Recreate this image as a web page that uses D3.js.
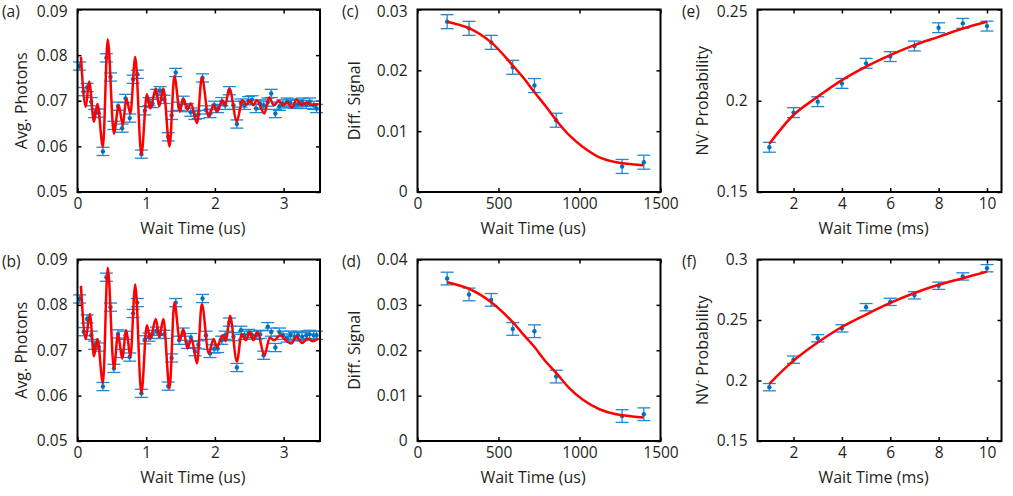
<!DOCTYPE html>
<html>
<head>
<meta charset="utf-8">
<script src="https://cdn.jsdelivr.net/npm/d3@7"></script>
<style>
body { margin: 0; background: #fff; }
svg text { font-family: "Open Sans", sans-serif; fill: #231f20; }
</style>
</head>
<body>
<svg width="1013" height="496"></svg>
<script>
// ---- data ----
// (a) photons vs wait time (us): [t, value]
var pointsA = [[0.03,0.0776],[0.09,0.0720],[0.14,0.0729],[0.20,0.0698],[0.25,0.0672],[0.31,0.0673],[0.37,0.0589],[0.42,0.0794],
  [0.48,0.0752],[0.53,0.0646],[0.59,0.0688],[0.65,0.0640],[0.70,0.0705],[0.76,0.0662],[0.81,0.0747],[0.87,0.0758],
  [0.93,0.0583],[0.98,0.0678],[1.04,0.0698],[1.09,0.0694],[1.15,0.0716],[1.20,0.0722],[1.26,0.0703],[1.32,0.0621],
  [1.37,0.0668],[1.43,0.0762],[1.48,0.0688],[1.54,0.0701],[1.60,0.0685],[1.65,0.0675],[1.71,0.0668],[1.76,0.0670],
  [1.82,0.0750],[1.87,0.0680],[1.93,0.0672],[1.99,0.0690],[2.04,0.0683],[2.10,0.0698],[2.15,0.0690],[2.21,0.0722],
  [2.27,0.0690],[2.32,0.0649],[2.38,0.0695],[2.43,0.0690],[2.49,0.0700],[2.54,0.0702],[2.60,0.0683],[2.66,0.0693],
  [2.71,0.0690],[2.77,0.0697],[2.82,0.0716],[2.88,0.0672],[2.94,0.0688],[2.99,0.0693],[3.05,0.0697],[3.10,0.0695],
  [3.16,0.0692],[3.21,0.0693],[3.27,0.0697],[3.33,0.0692],[3.38,0.0697],[3.44,0.0690],[3.48,0.0683]];
var fitA = [[0.05,0.0796],[0.12,0.0687],[0.17,0.0742],[0.24,0.0654],[0.29,0.0693],[0.37,0.0599],[0.44,0.0834],[0.53,0.0628],
  [0.60,0.0690],[0.66,0.0646],[0.71,0.0705],[0.77,0.0672],[0.84,0.0796],[0.93,0.0582],[1.01,0.0714],[1.06,0.0683],
  [1.14,0.0727],[1.19,0.0688],[1.25,0.0727],[1.34,0.0600],[1.41,0.0754],[1.49,0.0676],[1.54,0.0705],[1.60,0.0680],
  [1.65,0.0694],[1.74,0.0651],[1.81,0.0751],[1.91,0.0665],[1.98,0.0690],[2.03,0.0676],[2.11,0.0701],[2.15,0.0690],
  [2.21,0.0727],[2.32,0.0655],[2.40,0.0701],[2.46,0.0692],[2.51,0.0700],[2.56,0.0690],[2.61,0.0701],[2.72,0.0672],
  [2.79,0.0707],[2.86,0.0690],[2.93,0.0700],[3.00,0.0690],[3.05,0.0697],[3.12,0.0685],[3.19,0.0703],[3.26,0.0690],
  [3.33,0.0696],[3.40,0.0691],[3.51,0.0693]];

// (b)
var pointsB = [[0.03,0.0813],[0.09,0.0741],[0.14,0.0769],[0.20,0.0733],[0.25,0.0711],[0.31,0.0707],[0.37,0.0620],[0.42,0.0861],
  [0.48,0.0795],[0.53,0.0660],[0.59,0.0736],[0.65,0.0693],[0.70,0.0733],[0.76,0.0685],[0.81,0.0781],[0.87,0.0805],
  [0.93,0.0605],[0.98,0.0723],[1.04,0.0729],[1.09,0.0735],[1.15,0.0742],[1.20,0.0735],[1.26,0.0735],[1.32,0.0621],
  [1.37,0.0683],[1.43,0.0805],[1.48,0.0722],[1.54,0.0740],[1.60,0.0713],[1.65,0.0728],[1.71,0.0697],[1.76,0.0712],
  [1.82,0.0814],[1.87,0.0733],[1.93,0.0693],[1.99,0.0703],[2.04,0.0704],[2.10,0.0722],[2.15,0.0733],[2.21,0.0762],
  [2.27,0.0730],[2.32,0.0662],[2.38,0.0744],[2.43,0.0733],[2.49,0.0737],[2.54,0.0733],[2.60,0.0733],[2.66,0.0735],
  [2.71,0.0689],[2.77,0.0752],[2.82,0.0740],[2.88,0.0706],[2.94,0.0740],[2.99,0.0733],[3.05,0.0727],[3.10,0.0733],
  [3.16,0.0730],[3.21,0.0733],[3.27,0.0730],[3.33,0.0733],[3.38,0.0735],[3.44,0.0733],[3.48,0.0733]];
var fitB = [[0.05,0.0842],[0.12,0.0725],[0.18,0.0780],[0.24,0.0687],[0.29,0.0725],[0.37,0.0627],[0.44,0.0882],[0.53,0.0660],
  [0.59,0.0736],[0.65,0.0682],[0.71,0.0744],[0.77,0.0685],[0.84,0.0845],[0.93,0.0605],[1.01,0.0755],[1.06,0.0725],
  [1.14,0.0769],[1.19,0.0729],[1.25,0.0769],[1.34,0.0616],[1.41,0.0805],[1.49,0.0722],[1.54,0.0747],[1.60,0.0704],
  [1.66,0.0725],[1.74,0.0671],[1.81,0.0802],[1.91,0.0693],[1.98,0.0725],[2.03,0.0707],[2.11,0.0733],[2.16,0.0720],
  [2.22,0.0776],[2.32,0.0675],[2.39,0.0736],[2.45,0.0722],[2.51,0.0740],[2.56,0.0722],[2.62,0.0740],[2.72,0.0689],
  [2.80,0.0728],[2.86,0.0722],[2.95,0.0733],[3.03,0.0722],[3.11,0.0715],[3.19,0.0730],[3.27,0.0716],[3.35,0.0726],
  [3.42,0.0720],[3.51,0.0726]];

// (c), (d) diff. signal vs wait time (us)
var waitCD = [183, 318, 455, 588, 722, 856, 1263, 1397];
var signalC = [0.0280, 0.0269, 0.0246, 0.0205, 0.0175, 0.0118, 0.0042, 0.0049];
var signalD = [0.0358, 0.0323, 0.0311, 0.0247, 0.0242, 0.0142, 0.0055, 0.0059];
var fitC = [[183,0.0280],[321,0.0269],[455,0.0246],[588,0.0208],[650,0.0189],[722,0.0164],[794,0.0140],[856,0.0118],
  [938,0.0093],[1021,0.0074],[1123,0.0057],[1226,0.0049],[1395,0.0044]];
var fitD = [[183,0.0350],[321,0.0335],[455,0.0306],[588,0.0262],[650,0.0236],[722,0.0207],[794,0.0174],[856,0.0150],
  [938,0.0116],[1021,0.0091],[1123,0.0070],[1226,0.0059],[1395,0.0052]];

// (e), (f) NV- probability vs wait time (ms)
var waitEF = [1, 2, 3, 4, 5, 6, 7, 8, 9, 10];
var probE = [0.1745, 0.1935, 0.1995, 0.2095, 0.2205, 0.2242, 0.2300, 0.2400, 0.2424, 0.2409];
var probF = [0.1945, 0.2172, 0.2349, 0.2431, 0.2606, 0.2650, 0.2704, 0.2783, 0.2860, 0.2928];
var fitE = [[1,0.1764],[2,0.1922],[3,0.2022],[4,0.2113],[5,0.2187],[6,0.2250],[7,0.2305],[8,0.2350],[9,0.2396],[10,0.2433]];
var fitF = [[1,0.1973],[2,0.2164],[3,0.2314],[4,0.2442],[5,0.2545],[6,0.2641],[7,0.2723],[8,0.2791],[9,0.2845],[10,0.2900]];

var ticksPhotons = [0.05, 0.06, 0.07, 0.08, 0.09];
var ticksC = [0, 0.01, 0.02, 0.03];
var ticksD = [0, 0.01, 0.02, 0.03, 0.04];
var ticksE = [0.15, 0.2, 0.25];
var ticksF = [0.15, 0.2, 0.25, 0.3];

var svg = d3.select("svg");
var red = "#ff0000", barColor = "#1f88d6", dotColor = "#0072bd";

function fmt(d) { return String(+d.toFixed(4)); }

function drawPanel(p) {
    var x = d3.scaleLinear().domain(p.xDomain).range([p.left, p.right]);
    var y = d3.scaleLinear().domain(p.yDomain).range([p.bottom, p.top]);
    var g = svg.append("g");

    // inward ticks on all four sides
    var axes = [
        [d3.axisBottom(x).tickValues(p.xTicks).tickFormat(fmt).tickPadding(6), "translate(0," + p.bottom + ")"],
        [d3.axisTop(x).tickValues(p.xTicks).tickFormat(""), "translate(0," + p.top + ")"],
        [d3.axisLeft(y).tickValues(p.yTicks).tickFormat(fmt).tickPadding(10), "translate(" + p.left + ",0)"],
        [d3.axisRight(y).tickValues(p.yTicks).tickFormat(""), "translate(" + p.right + ",0)"]
    ];
    axes.forEach(function (a, i) {
        var ax = g.append("g").attr("transform", a[1])
            .call(a[0].tickSizeInner(-4).tickSizeOuter(0));
        ax.attr("font-family", null).attr("font-size", 15.5);
        ax.select(".domain").remove();
        ax.selectAll(".tick line").attr("stroke", "#000").attr("stroke-width", 1.5);
        ax.selectAll(".tick text").attr("fill", "#231f20");
        // keep the top label of the upper row inside the page
        if (i == 2 && p.top < 20) {
            ax.selectAll(".tick text").filter(function (d) { return d == p.yDomain[1]; }).attr("y", 2);
        }
    });

    // error bars
    var cap = 6.5;
    var bars = g.append("g").attr("stroke", barColor).attr("stroke-width", 1.3).attr("fill", "none");
    p.points.forEach(function (d) {
        var cx = x(d[0]), y1 = y(d[1] - p.err), y2 = y(d[1] + p.err);
        bars.append("line").attr("x1", cx).attr("x2", cx).attr("y1", y1).attr("y2", y2);
        bars.append("line").attr("x1", cx - cap).attr("x2", cx + cap).attr("y1", y1).attr("y2", y1);
        bars.append("line").attr("x1", cx - cap).attr("x2", cx + cap).attr("y1", y2).attr("y2", y2);
    });
    g.append("g").selectAll("circle")
        .data(p.points)
        .enter()
        .append("circle")
        .attr("cx", function (d) { return x(d[0]); })
        .attr("cy", function (d) { return y(d[1]); })
        .attr("r", 2.2)
        .attr("fill", dotColor);

    // fit
    var line = d3.line()
        .x(function (d) { return x(d[0]); })
        .y(function (d) { return y(d[1]); })
        .curve(p.curve || d3.curveMonotoneX);
    g.append("path")
        .datum(p.fit)
        .attr("d", line)
        .attr("fill", "none")
        .attr("stroke", red)
        .attr("stroke-width", 2.5)
        .attr("stroke-linejoin", "round");

    // frame
    g.append("rect")
        .attr("x", p.left).attr("y", p.top)
        .attr("width", p.right - p.left).attr("height", p.bottom - p.top)
        .attr("fill", "none").attr("stroke", "#000").attr("stroke-width", 2);

    // labels
    g.append("text")
        .attr("x", (p.left + p.right) / 2 - 6)
        .attr("y", p.bottom + 42)
        .attr("text-anchor", "middle")
        .attr("font-size", 16)
        .text(p.xLabel);
    var yl = g.append("text")
        .attr("transform", "translate(" + (p.left - p.yLabelGap) + "," + ((p.top + p.bottom) / 2) + ") rotate(-90)")
        .attr("text-anchor", "middle")
        .attr("font-size", 16);
    if (p.nv) {
        yl.append("tspan").text("NV");
        yl.append("tspan").attr("font-size", 11).attr("dy", -7).text("-");
        yl.append("tspan").attr("dy", 7).text(" Probability");
    } else {
        yl.text(p.yLabel);
    }
    g.append("text")
        .attr("x", p.tagX)
        .attr("y", p.top + 7)
        .attr("font-size", 15.5)
        .text(p.tag);
}

function zipPts(xs, ys) { return xs.map(function (v, i) { return [v, ys[i]]; }); }

var topRow = { top: 9.5, bottom: 192 }, botRow = { top: 259.5, bottom: 441 };
var colA = { left: 77.5, right: 320, xDomain: [0, 3.53], xTicks: [0, 1, 2, 3], tagX: 2, yLabelGap: 51 };
var colC = { left: 417.5, right: 660.5, xDomain: [0, 1500], xTicks: [0, 500, 1000, 1500], tagX: 342, yLabelGap: 58 };
var colE = { left: 757.5, right: 1001.5, xDomain: [0.51, 10.6], xTicks: [2, 4, 6, 8, 10], tagX: 682, yLabelGap: 50 };

var panels = [
    Object.assign({}, colA, topRow, { tag: "(a)", points: pointsA, fit: fitA, err: 0.0009, yDomain: [0.05, 0.09],
        yTicks: ticksPhotons, xLabel: "Wait Time (us)", yLabel: "Avg. Photons" }),
    Object.assign({}, colA, botRow, { tag: "(b)", points: pointsB, fit: fitB, err: 0.0009, yDomain: [0.05, 0.09],
        yTicks: ticksPhotons, xLabel: "Wait Time (us)", yLabel: "Avg. Photons" }),
    Object.assign({}, colC, topRow, { tag: "(c)", points: zipPts(waitCD, signalC), fit: fitC, err: 0.00115,
        yDomain: [0, 0.03], yTicks: ticksC, xLabel: "Wait Time (us)", yLabel: "Diff. Signal", curve: d3.curveCatmullRom }),
    Object.assign({}, colC, botRow, { tag: "(d)", points: zipPts(waitCD, signalD), fit: fitD, err: 0.0014,
        yDomain: [0, 0.04], yTicks: ticksD, xLabel: "Wait Time (us)", yLabel: "Diff. Signal", curve: d3.curveCatmullRom }),
    Object.assign({}, colE, topRow, { tag: "(e)", points: zipPts(waitEF, probE), fit: fitE, err: 0.0027,
        yDomain: [0.15, 0.25], yTicks: ticksE, xLabel: "Wait Time (ms)", nv: true, curve: d3.curveCatmullRom }),
    Object.assign({}, colE, botRow, { tag: "(f)", points: zipPts(waitEF, probF), fit: fitF, err: 0.003,
        yDomain: [0.15, 0.3], yTicks: ticksF, xLabel: "Wait Time (ms)", nv: true, curve: d3.curveCatmullRom })
];
panels.forEach(drawPanel);
</script>
</body>
</html>
